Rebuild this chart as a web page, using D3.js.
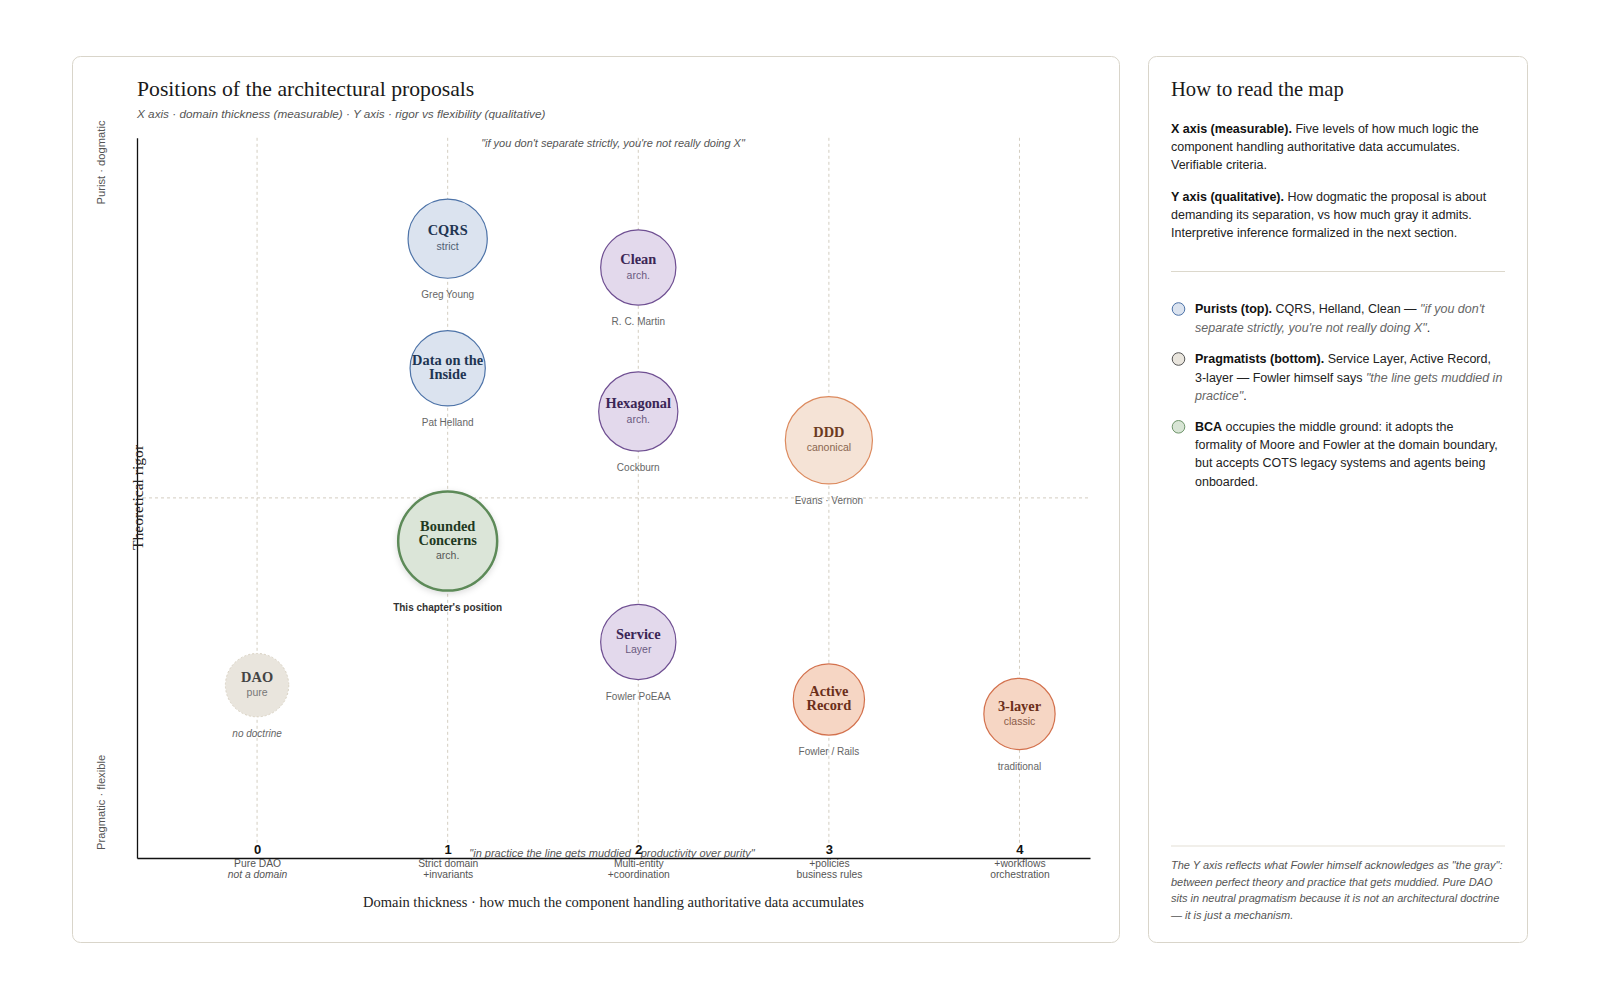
<!DOCTYPE html>
<html><head><meta charset="utf-8">
<script src="https://cdn.jsdelivr.net/npm/d3@7"></script>
<style>
html,body{margin:0;padding:0;background:#fff;}
svg{display:block;}
.sans{font-family:"Liberation Sans",Arial,Helvetica,sans-serif;}
.serif{font-family:"Liberation Serif","Times New Roman",serif;}
</style></head>
<body>
<svg id="chart" width="1600" height="1000"></svg>
<script>
// ---------- data ----------
const names    = ["CQRS","Clean","Data on the\nInside","Hexagonal","DDD","Bounded\nConcerns","DAO","Service","Active\nRecord","3-layer"];
const subs     = ["strict","arch.","","arch.","canonical","arch.","pure","Layer","","classic"];
const authors  = ["Greg Young","R. C. Martin","Pat Helland","Cockburn","Evans · Vernon","This chapter's position","no doctrine","Fowler PoEAA","Fowler / Rails","traditional"];
const domainLevel = [1,2,1,2,3,1,0,2,3,4];
const rigor    = [86,82,68,62,58,44,24,30,22,20];
const weight   = [40,38,38,40,44,50,32,38,36,36];
const school   = ["purist","arch","purist","arch","ddd","bca","neutral","arch","pragmatic","pragmatic"];

const tickValues = [0,1,2,3,4];
const tickLine1  = ["Pure DAO","Strict domain","Multi-entity","+policies","+workflows"];
const tickLine2  = ["not a domain","+invariants","+coordination","business rules","orchestration"];

const titleText = "Positions of the architectural proposals";
const subtitleText = "X axis · domain thickness (measurable) · Y axis · rigor vs flexibility (qualitative)";
const topQuote = "\"if you don't separate strictly, you're not really doing X\"";
const bottomQuote = "\"in practice the line gets muddied · productivity over purity\"";
const xTitle = "Domain thickness · how much the component handling authoritative data accumulates";
const yTitle = "Theoretical rigor";
const yTop = "Purist · dogmatic";
const yBottom = "Pragmatic · flexible";

// ---------- styles ----------
const pal = {
  purist:   {fill:"#dbe3ef", stroke:"#4d73a8", sw:1.2, name:"#1f3552", sub:"#4f5d72"},
  arch:     {fill:"#e3d9ec", stroke:"#6f4f92", sw:1.2, name:"#3b2656", sub:"#6a5a80"},
  ddd:      {fill:"#f5e3d6", stroke:"#dc8a5e", sw:1.2, name:"#6b3a1f", sub:"#8a6650"},
  pragmatic:{fill:"#f6d6c4", stroke:"#d3714d", sw:1.2, name:"#6b2f1a", sub:"#8a5a48"},
  bca:      {fill:"#dbe5d8", stroke:"#5d8a59", sw:2.5, name:"#1f3a1f", sub:"#555"},
  neutral:  {fill:"#e9e5dd", stroke:"#d9d2c3", sw:1, name:"#444", sub:"#777", dash:"2,2"}
};

const svg = d3.select("#chart");
const defs = svg.append("defs");
const f = defs.append("filter").attr("id","shadow").attr("x","-30%").attr("y","-30%").attr("width","160%").attr("height","160%");
f.append("feDropShadow").attr("dx",0).attr("dy",2).attr("stdDeviation",3).attr("flood-color","#000").attr("flood-opacity",0.14);

// cards
svg.append("rect").attr("x",72.5).attr("y",56.5).attr("width",1047).attr("height",886).attr("rx",8)
  .attr("fill","#fff").attr("stroke","#d9d5ca");
svg.append("rect").attr("x",1148.5).attr("y",56.5).attr("width",379).attr("height",886).attr("rx",8)
  .attr("fill","#fff").attr("stroke","#d9d5ca");

// title
svg.append("text").attr("class","serif").attr("x",137).attr("y",96).attr("font-size",21.7).attr("fill","#1a1a1a").text(titleText);
svg.append("text").attr("class","sans").attr("x",137).attr("y",118).attr("font-size",11.75).attr("font-style","italic").attr("fill","#555").text(subtitleText);

// scales
const x = d3.scaleLinear().domain([-0.63,4.37]).range([137,1090]);
const y = d3.scaleLinear().domain([0,100]).range([858,137.8]);
const r = d3.scaleLinear().domain([0,50]).range([0,49.5]);

const g = svg.append("g");

// grid verticals
g.selectAll("line.vgrid").data(tickValues).join("line").attr("class","vgrid")
  .attr("x1",d=>x(d)).attr("x2",d=>x(d)).attr("y1",y(100)).attr("y2",843)
  .attr("stroke","#d3cdc0").attr("stroke-dasharray","3,3");
// midline
g.append("line").attr("x1",x.range()[0]).attr("x2",x.range()[1]).attr("y1",y(50)).attr("y2",y(50))
  .attr("stroke","#d3cdc0").attr("stroke-dasharray","3,3");

// quotes
g.append("text").attr("class","sans").attr("x",613).attr("y",147).attr("text-anchor","middle").attr("font-size",11)
  .attr("font-style","italic").attr("fill","#555").text(topQuote);
g.append("text").attr("class","sans").attr("x",612).attr("y",856.5).attr("text-anchor","middle").attr("font-size",11)
  .attr("font-style","italic").attr("fill","#555").text(bottomQuote);

// axes
const xAxis = d3.axisBottom(x).tickValues(tickValues).tickSize(0).tickPadding(-13.5).tickFormat(d3.format("d"));
const xg = g.append("g").attr("transform",`translate(0,${y(0)})`).call(xAxis);
xg.select(".domain").attr("stroke","#111").attr("stroke-width",1.3);
xg.selectAll(".tick text").attr("class","sans").attr("font-size",13).attr("font-weight","bold").attr("fill","#111");
xg.selectAll(".tick").each(function(d,i){
  const t = d3.select(this);
  t.append("text").attr("class","sans").attr("y",9).attr("text-anchor","middle").attr("font-size",10.3).attr("fill","#555").text(tickLine1[i]);
  t.append("text").attr("class","sans").attr("y",20).attr("text-anchor","middle").attr("font-size",10.3).attr("fill","#555")
    .attr("font-style", i===0 ? "italic":"normal").text(tickLine2[i]);
});
const yAxis = d3.axisLeft(y).tickValues([]).tickSize(0);
const yg = g.append("g").attr("transform",`translate(${x.range()[0]},0)`).call(yAxis);
yg.select(".domain").attr("stroke","#111").attr("stroke-width",1.3);

// axis titles
g.append("text").attr("class","serif").attr("x",613.5).attr("y",907).attr("text-anchor","middle").attr("font-size",14.5).attr("fill","#222").text(xTitle);
g.append("text").attr("class","serif").attr("transform",`translate(143,497.5) rotate(-90)`).attr("text-anchor","middle").attr("font-size",15.6).attr("fill","#222").text(yTitle);
g.append("text").attr("class","sans").attr("transform",`translate(105,120.5) rotate(-90)`).attr("text-anchor","end").attr("font-size",11.2).attr("fill","#555").text(yTop);
g.append("text").attr("class","sans").attr("transform",`translate(105,850) rotate(-90)`).attr("text-anchor","start").attr("font-size",11.2).attr("fill","#555").text(yBottom);

// bubbles
const data = names.map((n,i)=>({name:n, sub:subs[i], author:authors[i], xv:domainLevel[i], yv:rigor[i], w:weight[i], s:school[i]}));
const b = g.selectAll("g.bubble").data(data).join("g").attr("class","bubble")
  .attr("transform",d=>`translate(${x(d.xv)},${y(d.yv)})`);
b.append("circle").attr("r",d=>r(d.w))
  .attr("fill",d=>pal[d.s].fill).attr("stroke",d=>pal[d.s].stroke).attr("stroke-width",d=>pal[d.s].sw)
  .attr("stroke-dasharray",d=>pal[d.s].dash||null)
  .attr("filter",d=>d.s==="bca"?"url(#shadow)":null);
b.each(function(d){
  const el = d3.select(this);
  const nameLines = d.name.split("\n");
  let offs;
  if (nameLines.length===1 && d.sub) offs = [-7.9, 7.3];
  else if (nameLines.length===2 && !d.sub) offs = [-8.5, 5.8];
  else if (nameLines.length===2 && d.sub) offs = [-14.5, -1, 14.3];
  else offs = [0];
  const lines = nameLines.map(t=>({t, type:"name"}));
  if (d.sub) lines.push({t:d.sub, type:"sub"});
  lines.forEach((L,k)=>{
    const isName = L.type==="name";
    el.append("text").attr("class", isName?"serif":"sans")
      .attr("y", offs[k]).attr("dy", isName ? "0.33em" : "0.36em")
      .attr("text-anchor","middle")
      .attr("font-size", isName?14.4:10.5)
      .attr("font-weight", isName?"bold":"normal")
      .attr("fill", isName?pal[d.s].name:pal[d.s].sub)
      .text(L.t);
  });
  el.append("text").attr("class","sans").attr("y", r(d.w)+16.5).attr("dy","0.35em").attr("text-anchor","middle")
    .attr("font-size", d.s==="bca"?10:10)
    .attr("font-weight", d.s==="bca"?"bold":"normal")
    .attr("font-style", d.s==="neutral"?"italic":"normal")
    .attr("fill", d.s==="bca"?"#333":"#666")
    .text(d.author);
});

// ---------- right panel ----------
const P = svg.append("g").attr("class","sans");
const px = 1171;
P.append("text").attr("class","serif").attr("x",px).attr("y",96).attr("font-size",20.6).attr("fill","#1a1a1a").text("How to read the map");

function richLine(yv, parts, xv){
  const t = P.append("text").attr("x",xv).attr("y",yv).attr("font-size",12.5).attr("fill","#222");
  parts.forEach(p=>{
    const s = t.append("tspan").text(p[0]);
    if (p[1]==="b") s.attr("font-weight","bold").attr("fill","#111");
    if (p[1]==="i") s.attr("font-style","italic").attr("fill","#666");
  });
}
const para = [
  [132.5, [["X axis (measurable).","b"],[" Five levels of how much logic the"]]],
  [150.8, [["component handling authoritative data accumulates."]]],
  [169.1, [["Verifiable criteria."]]],
  [200.5, [["Y axis (qualitative).","b"],[" How dogmatic the proposal is about"]]],
  [218.8, [["demanding its separation, vs how much gray it admits."]]],
  [237.1, [["Interpretive inference formalized in the next section."]]]
];
para.forEach(l=>richLine(l[0], l[1], px));
P.append("line").attr("x1",px).attr("x2",1505).attr("y1",271.5).attr("y2",271.5).attr("stroke","#dcd8cc");

const legendCircles = [
  {y:309, fill:"#dbe3ef", stroke:"#4d73a8"},
  {y:359, fill:"#e9e5dd", stroke:"#555"},
  {y:426.8, fill:"#d8e5d5", stroke:"#6f956b"}
];
P.selectAll("circle.leg").data(legendCircles).join("circle").attr("class","leg")
  .attr("cx",1178.5).attr("cy",d=>d.y).attr("r",6.3).attr("fill",d=>d.fill).attr("stroke",d=>d.stroke);
const lx = 1195;
const legendLines = [
  [313.2, [["Purists (top).","b"],[" CQRS, Helland, Clean — "],["\"if you don't","i"]]],
  [331.5, [["separate strictly, you're not really doing X\"","i"],["."]]],
  [363.2, [["Pragmatists (bottom).","b"],[" Service Layer, Active Record,"]]],
  [381.5, [["3-layer — Fowler himself says "],["\"the line gets muddied in","i"]]],
  [399.8, [["practice\"","i"],["."]]],
  [430.8, [["BCA","b"],[" occupies the middle ground: it adopts the"]]],
  [449.1, [["formality of Moore and Fowler at the domain boundary,"]]],
  [467.4, [["but accepts COTS legacy systems and agents being"]]],
  [485.7, [["onboarded."]]]
];
legendLines.forEach(l=>richLine(l[0], l[1], lx));

P.append("line").attr("x1",px).attr("x2",1505).attr("y1",846).attr("y2",846).attr("stroke","#e3dfd5");
const note = [
  "The Y axis reflects what Fowler himself acknowledges as \"the gray\":",
  "between perfect theory and practice that gets muddied. Pure DAO",
  "sits in neutral pragmatism because it is not an architectural doctrine",
  "— it is just a mechanism."
];
P.selectAll("text.note").data(note).join("text").attr("class","note")
  .attr("x",px).attr("y",(d,i)=>869+i*16.6).attr("font-size",11).attr("font-style","italic").attr("fill","#555").text(d=>d);
</script>
</body></html>
